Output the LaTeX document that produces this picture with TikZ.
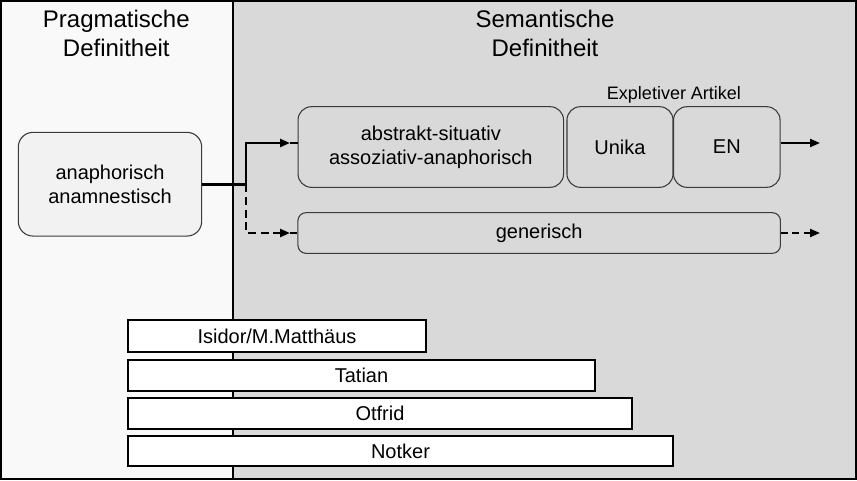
\documentclass[tikz,border=0pt]{standalone}
\usepackage{fontspec}
\setmainfont{Liberation Sans}
\usetikzlibrary{arrows.meta}
\definecolor{leftbg}{HTML}{F9F9F9}
\definecolor{rightbg}{HTML}{D9D9D9}
\definecolor{boxfill}{HTML}{F2F2F2}
\definecolor{boxline}{HTML}{3A3A3A}
\tikzset{
  rbox/.style={draw=boxline, line width=0.8pt, rounded corners=10pt, inner sep=0pt, align=center,
    font=\fontsize{15}{18}\selectfont},
  bar/.style={draw=black, line width=1.1pt, fill=white, inner sep=0pt,
    font=\fontsize{15}{18}\selectfont},
  title/.style={align=center, inner sep=0pt, font=\fontsize{18}{21.75}\selectfont},
  thickcon/.style={line width=2.2pt},
  dashcon/.style={line width=2.2pt, dash pattern=on 6pt off 3.5pt},
  tip/.style={-{Triangle[length=7.5pt,width=6pt]}},
}
\begin{document}
\begin{tikzpicture}[x=0.75pt,y=-0.75pt]
\useasboundingbox (0,0) rectangle (857,480);
% panels
\fill[leftbg] (0,0) rectangle (233,480);
\fill[rightbg] (233,0) rectangle (857,480);
\draw[line width=1.5pt] (233,0) -- (233,480);
\draw[line width=1.1pt] (0.8,0.8) rectangle (856.2,479.2);
% titles
\node[title] (tl) at (116.3,33.5) {Pragmatische\\Definitheit};
\node[title] (tr) at (545,33.5) {Semantische\\Definitheit};
% boxes
\node[rbox, fill=boxfill, rounded corners=11pt, minimum width=183.4*0.75pt, minimum height=103.7*0.75pt] (ana) at (110,184.2) {anaphorisch\\anamnestisch};
\node[rbox, fill=rightbg, minimum width=265.5*0.75pt, minimum height=80.6*0.75pt] (abs) at (430.8,147) {abstrakt-situativ\\assoziativ-anaphorisch};
\node[rbox, fill=rightbg, minimum width=106*0.75pt, minimum height=80.6*0.75pt] (uni) at (620,147) {Unika};
\node[rbox, fill=rightbg, minimum width=106.5*0.75pt, minimum height=80.6*0.75pt] (en) at (726.8,147) {EN};
\node[font=\fontsize{13.5}{15}\selectfont, inner sep=0pt] (exp) at (674,95) {Expletiver Artikel};
\node[rbox, fill=rightbg, rounded corners=6pt, minimum width=482.5*0.75pt, minimum height=40.6*0.75pt] (gen) at (539.2,233) {generisch};
% connectors
\coordinate (j) at (246,184.2);
\coordinate (t1) at (290,143);
\coordinate (t2) at (290,233);
\coordinate (e1) at (820,143);
\coordinate (e2) at (820,233);
\draw[thickcon, tip] (ana.east) -- (j) |- (t1);
\draw[thickcon] (t1) -- (t1 -| abs.west);
\draw[dashcon, tip] (j) |- (t2);
\draw[dashcon] (t2) -- (gen.west);
\draw[line width=1.5pt, tip] (t1 -| en.east) -- (e1);
\draw[line width=1.5pt, dash pattern=on 5pt off 3.5pt, tip] (gen.east) -- (e2);
% bars
\node[bar, minimum width=298*0.75pt, minimum height=32*0.75pt] (isi) at (277,336) {Isidor/M.Matthäus};
\node[bar, minimum width=467*0.75pt, minimum height=31*0.75pt] (tat) at (361.5,375.5) {Tatian};
\node[bar, minimum width=504*0.75pt, minimum height=31*0.75pt] (otf) at (380,413.5) {Otfrid};
\node[bar, minimum width=545*0.75pt, minimum height=30*0.75pt] (not) at (400.5,451) {Notker};
\end{tikzpicture}
\end{document}
